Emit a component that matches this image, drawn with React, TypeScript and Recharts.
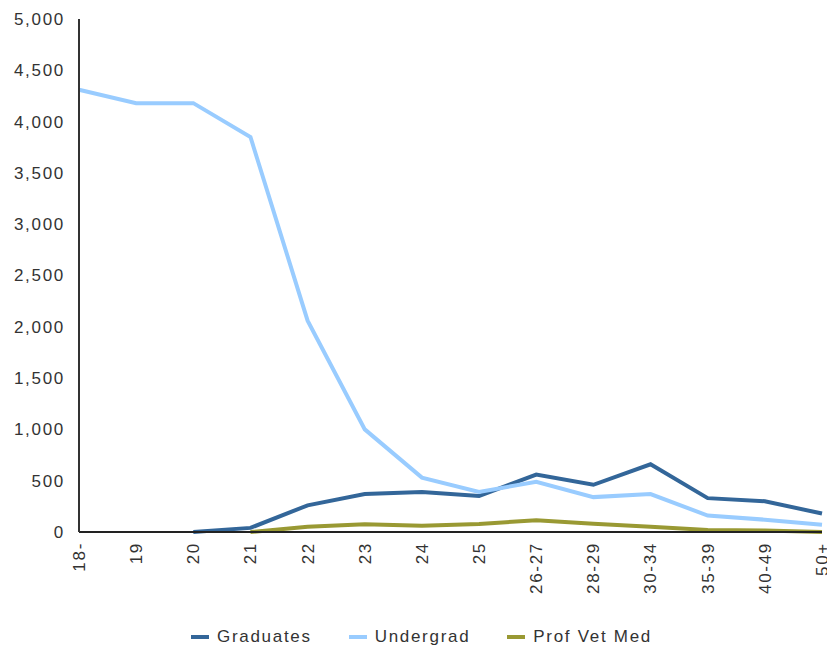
import React from "react";
import { LineChart, Line, XAxis, YAxis } from "recharts";

const categories = ["18-", "19", "20", "21", "22", "23", "24", "25", "26-27", "28-29", "30-34", "35-39", "40-49", "50+"];
const graduates = [null, null, 0, 40, 260, 370, 390, 350, 560, 460, 660, 330, 300, 180];
const undergrad = [4310, 4180, 4180, 3850, 2060, 1000, 530, 390, 490, 340, 370, 160, 120, 70];
const profVetMed = [null, null, null, 0, 50, 75, 60, 78, 115, 80, 52, 20, 15, 0];
const yTicks = [0, 500, 1000, 1500, 2000, 2500, 3000, 3500, 4000, 4500, 5000];

const seriesInfo = [
  { key: "Graduates", color: "#336699" },
  { key: "Undergrad", color: "#99CCFF" },
  { key: "Prof Vet Med", color: "#999933" },
];

const data = categories.map((c, i) => ({
  cat: c,
  Graduates: graduates[i],
  Undergrad: undergrad[i],
  "Prof Vet Med": profVetMed[i],
}));

const FONT = "'Liberation Sans', Arial, sans-serif";

const YTick = (props: any) => {
  const { x, y, payload } = props;
  return (
    <text x={x - 6} y={y} dy="0.35em" textAnchor="end" fontFamily={FONT} fontSize={17} letterSpacing={1.7} fill="#333">
      {payload.value.toLocaleString("en-US")}
    </text>
  );
};

const XTick = (props: any) => {
  const { x, y, payload } = props;
  const ay = y + 2;
  return (
    <text x={x} y={ay} dy="0.35em" textAnchor="end" transform={`rotate(-90, ${x}, ${ay})`} fontFamily={FONT} fontSize={17} letterSpacing={1.7} fill="#333">
      {payload.value}
    </text>
  );
};

const LegendBox = () => (
  <div style={{ position: "absolute", top: 619, left: 0, width: 827, display: "flex", justifyContent: "center", alignItems: "center", fontFamily: FONT, fontSize: 17, letterSpacing: 1.7, color: "#333" }}>
    {seriesInfo.map((s, i) => (
      <div key={s.key} style={{ display: "flex", alignItems: "center", marginLeft: i === 0 ? 0 : 37 }}>
        <div style={{ width: 18, height: 4, background: s.color, marginRight: 8 }} />
        <span>{s.key}</span>
      </div>
    ))}
  </div>
);

export default function App() {
  return (
    <div style={{ position: "relative", width: 827, height: 641 }}>
      <LineChart width={827} height={641} data={data} margin={{ top: 11, right: 13, bottom: 0, left: 0 }}>
        <XAxis
          dataKey="cat"
          interval={0}
          tick={<XTick />}
          tickLine={false}
          axisLine={{ stroke: "#222", strokeWidth: 2 }}
          height={117}
          padding={{ left: 0, right: 0 }}
        />
        <YAxis
          width={71}
          domain={[0, 5000]}
          ticks={yTicks}
          tick={<YTick />}
          tickLine={false}
          axisLine={{ stroke: "#333", strokeWidth: 2 }}
          interval={0}
        />
        {seriesInfo.map((s) => (
          <Line key={s.key} type="linear" dataKey={s.key} stroke={s.color} strokeWidth={4} dot={false} activeDot={false} isAnimationActive={false} connectNulls={false} />
        ))}
      </LineChart>
      <LegendBox />
    </div>
  );
}
